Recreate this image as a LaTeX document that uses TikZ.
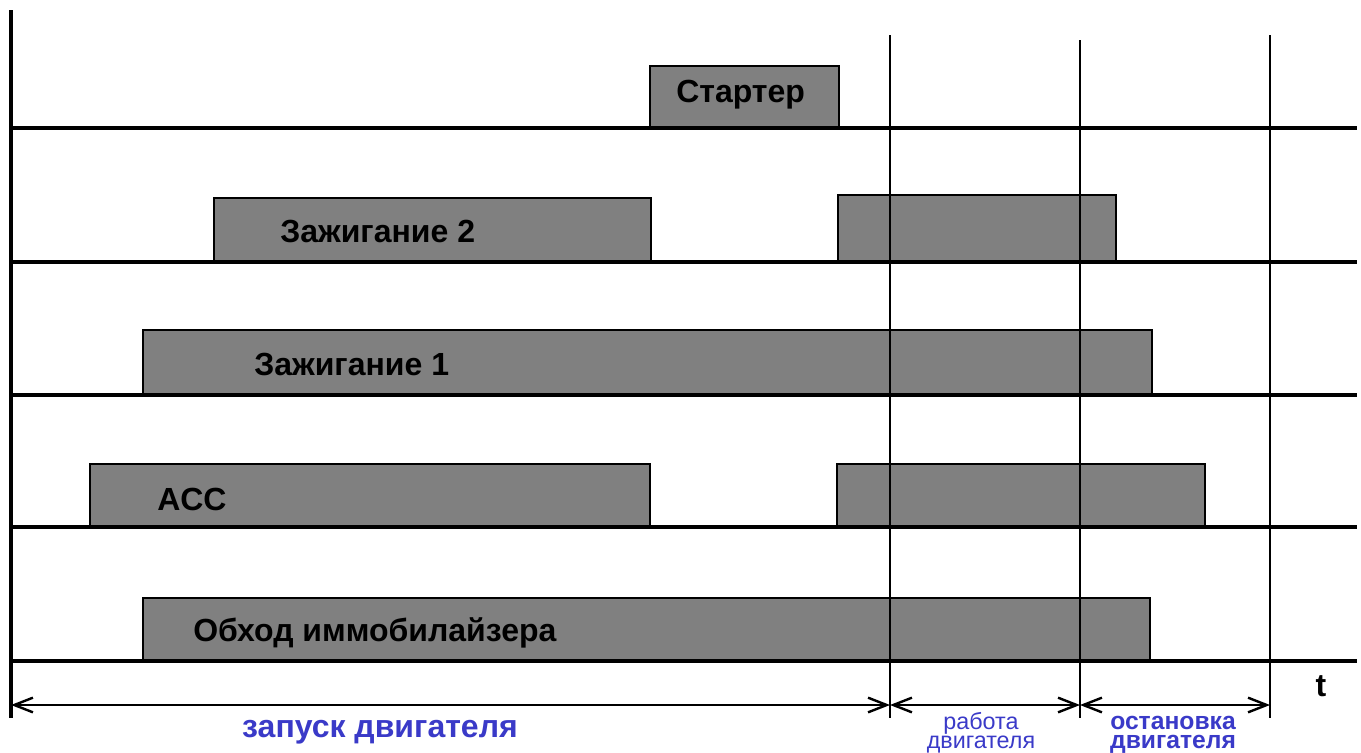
\documentclass[tikz,border=0pt]{standalone}
\usepackage{fontspec}
\setmainfont{Liberation Sans}
\usetikzlibrary{arrows.meta}
\definecolor{bargray}{HTML}{808080}
\definecolor{lblblue}{HTML}{3A3AC8}
\tikzset{
  bar/.style={fill=bargray,draw=black,line width=1.5pt},
  base/.style={line width=3pt},
  vline/.style={line width=2.2pt},
  span/.style={line width=1.8pt,{Straight Barb[length=14pt,width=11pt,line width=1.8pt]}-{Straight Barb[length=14pt,width=11pt,line width=1.8pt]}},
  bartext/.style={anchor=west,font=\bfseries\fontsize{24}{26}\selectfont,inner sep=0pt},
  bluetxt/.style={text=lblblue,align=center,inner sep=0pt,anchor=base},
}
\begin{document}
\begin{tikzpicture}[x=0.75pt,y=-0.75pt]
\useasboundingbox (0,0) rectangle (1361,753);
% bars
\draw[bar] (650,66) rectangle (839,128);
\draw[bar] (214,198) rectangle (651,262);
\draw[bar] (838,195) rectangle (1116,262);
\draw[bar] (143,330) rectangle (1152,395);
\draw[bar] (90,464) rectangle (650,527);
\draw[bar] (837,464) rectangle (1205,527);
\draw[bar] (143,598) rectangle (1150,661);
% bar labels
\node[bartext] (st) at (676,95) {Стартер};
\node[bartext] (z2) at (280,231) {Зажигание 2};
\node[bartext] (z1) at (254,364) {Зажигание 1};
\node[bartext] (acc) at (157,499) {ACC};
\node[bartext] (imm) at (193,633) {Обход иммобилайзера};
% baselines
\foreach \y in {128,262,395,527,661} \draw[base] (10,\y) -- (1357,\y);
% axes and time marks
\draw[line width=3pt] (11,10) -- (11,718);
\coordinate (a0) at (11,705);
\coordinate (a1) at (890,705);
\coordinate (a2) at (1080,705);
\coordinate (a3) at (1270,705);
\draw[vline] (890,35) -- (890,718);
\draw[vline] (1080,40) -- (1080,718);
\draw[vline] (1270,35) -- (1270,718);
\draw[span] (a0) -- (a1);
\draw[span] (a1) -- (a2);
\draw[span] (a2) -- (a3);
% labels
\node[font=\bfseries\fontsize{24}{26}\selectfont,inner sep=0pt] (t) at (1321,686) {t};
\node[bluetxt,font=\bfseries\fontsize{24}{26}\selectfont] (zap) at (380,737) {запуск двигателя};
\node[bluetxt,font=\fontsize{17.5}{14}\selectfont] (rab) at (981,748) {работа\\двигателя};
\node[bluetxt,font=\bfseries\fontsize{18.5}{14}\selectfont] (ost) at (1173,748) {остановка\\двигателя};
\end{tikzpicture}
\end{document}
